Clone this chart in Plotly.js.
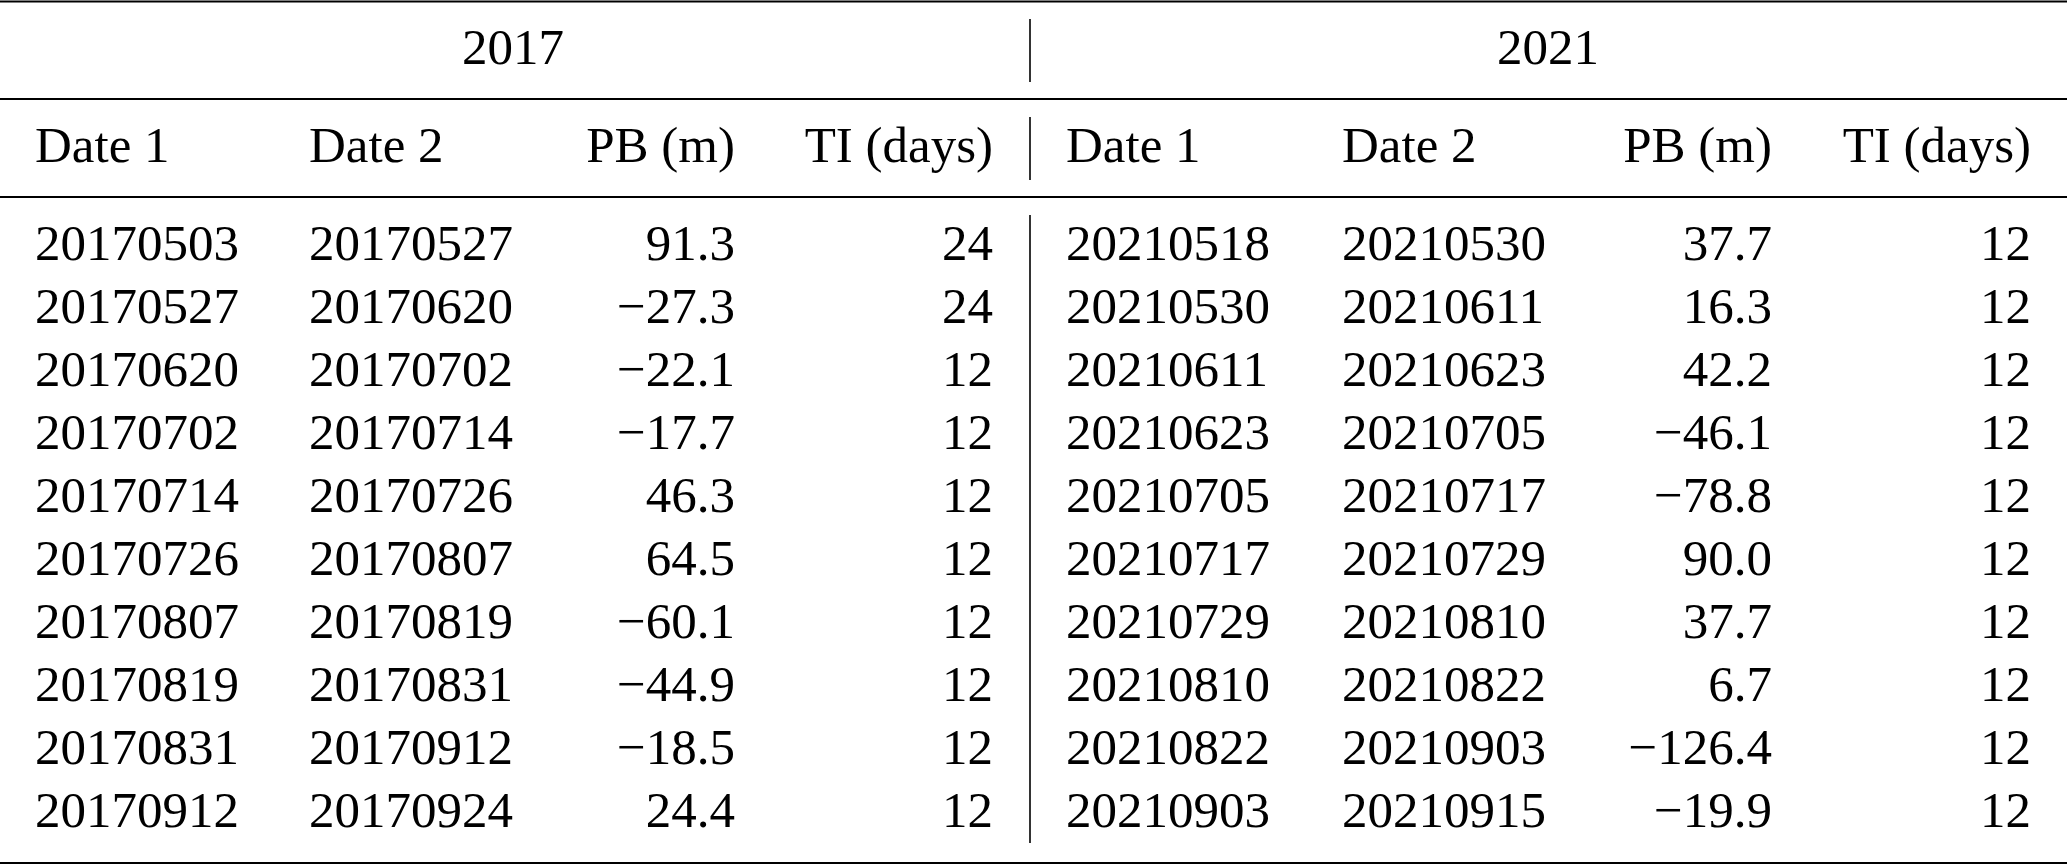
<!DOCTYPE html>
<html>
<head>
<meta charset="utf-8">
<script src="https://cdn.plot.ly/plotly-3.0.1.min.js"></script>
<style>
  html, body { margin: 0; padding: 0; background: #fff; }
  #table_plot { width: 2067px; height: 865px; }
</style>
</head>
<body>
<div id="table_plot"></div>
<script>
var years = ["2017", "2021"];
var colLabels = ["Date 1", "Date 2", "PB (m)", "TI (days)"];

var date1_2017 = ["20170503", "20170527", "20170620", "20170702", "20170714", "20170726", "20170807", "20170819", "20170831", "20170912"];
var date2_2017 = ["20170527", "20170620", "20170702", "20170714", "20170726", "20170807", "20170819", "20170831", "20170912", "20170924"];
var pb_2017 = [91.3, -27.3, -22.1, -17.7, 46.3, 64.5, -60.1, -44.9, -18.5, 24.4];
var ti_2017 = [24, 24, 12, 12, 12, 12, 12, 12, 12, 12];

var date1_2021 = ["20210518", "20210530", "20210611", "20210623", "20210705", "20210717", "20210729", "20210810", "20210822", "20210903"];
var date2_2021 = ["20210530", "20210611", "20210623", "20210705", "20210717", "20210729", "20210810", "20210822", "20210903", "20210915"];
var pb_2021 = [37.7, 16.3, 42.2, -46.1, -78.8, 90.0, 37.7, 6.7, -126.4, -19.9];
var ti_2021 = [12, 12, 12, 12, 12, 12, 12, 12, 12, 12];

// layout in pixels (width 2067, height 865)
var W = 2067, H = 865;
var ROW = 63;          // row pitch
var FIRST = 247;       // text anchor of first data row
var FONT = {family: "Liberation Serif, Times New Roman, serif", size: 51, color: "#000"};

// x anchors: [left, left, right, right] for each half
var anchors = [[35, 309, 735, 993], [1066, 1342, 1772, 2031]];
var yearCentre = [513, 1548];
var headerRow = (162 - 260) / ROW;
var yearRow = (64 - 260) / ROW;

function fmt(v) {
    return v.toFixed(1).replace("-", "\u2212");
}
function rows(n) {
    var r = [];
    for (var i = 0; i < n; i++) r.push(i);
    return r;
}
function column(x, y, text, align) {
    return {
        x: y.map(function () { return x; }),
        y: y,
        text: text,
        mode: "text",
        type: "scatter",
        textposition: align == "left" ? "middle right" : "middle left",
        textfont: FONT,
        hoverinfo: "skip",
        showlegend: false
    };
}

var halves = [
    [date1_2017, date2_2017, pb_2017.map(fmt), ti_2017.map(String)],
    [date1_2021, date2_2021, pb_2021.map(fmt), ti_2021.map(String)]
];
var aligns = ["left", "left", "right", "right"];

var data = [];
for (var h = 0; h < 2; h++) {
    for (var c = 0; c < 4; c++) {
        var col = halves[h][c];
        data.push(column(anchors[h][c], rows(col.length), col, aligns[c]));
        data.push(column(anchors[h][c], [headerRow], [colLabels[c]], aligns[c]));
    }
    data.push({
        x: [yearCentre[h]], y: [yearRow], text: [years[h]],
        mode: "text", type: "scatter", textposition: "middle center",
        textfont: FONT, hoverinfo: "skip", showlegend: false
    });
}

function py(p) { return 1 - p / H; }
function hline(p) {
    return {type: "line", xref: "paper", yref: "paper", x0: 0, x1: 1, y0: py(p), y1: py(p),
            line: {color: "#000", width: 2}};
}
function vline(p0, p1) {
    return {type: "line", xref: "x", yref: "paper", x0: 1030, x1: 1030, y0: py(p0), y1: py(p1),
            line: {color: "#000", width: 1.6}};
}

var layout = {
    width: W,
    height: H,
    margin: {l: 0, r: 0, t: 0, b: 0},
    paper_bgcolor: "#fff",
    plot_bgcolor: "#fff",
    xaxis: {range: [0, W], visible: false, fixedrange: true},
    yaxis: {range: [(H - FIRST) / ROW, -FIRST / ROW], visible: false, fixedrange: true},
    shapes: [
        hline(1.5), hline(99), hline(197), hline(863),
        vline(19, 82), vline(117, 180), vline(215, 843)
    ]
};

Plotly.newPlot("table_plot", data, layout, {staticPlot: true});
</script>
</body>
</html>
